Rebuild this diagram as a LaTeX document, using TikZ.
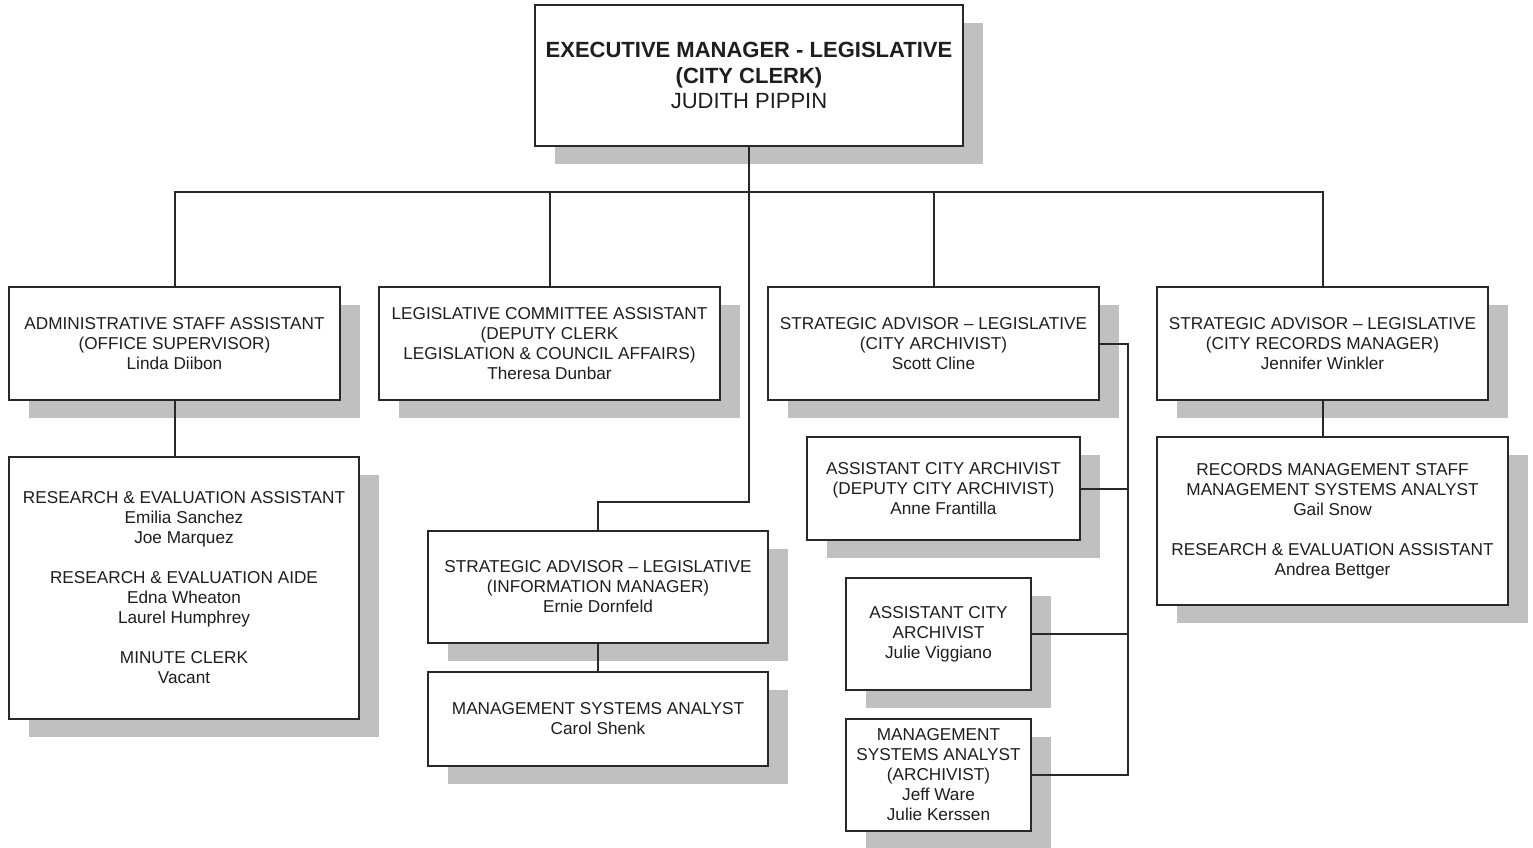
\documentclass[tikz,border=0pt]{standalone}
\usepackage{fontspec}
\setmainfont{Liberation Sans}
\usetikzlibrary{shadows}
\definecolor{shadowgray}{RGB}{192,192,192}
\definecolor{linegray}{RGB}{40,40,40}
\definecolor{txt}{RGB}{30,30,30}
\tikzset{
  orgbox/.style={draw=linegray, line width=1pt, fill=white, align=center,
    text=txt, inner sep=0pt,
    font=\fontsize{8.6}{10}\selectfont,
    drop shadow={shadow xshift=10pt, shadow yshift=-9pt, fill=shadowgray, opacity=1}},
  topbox/.style={orgbox, font=\fontsize{11}{12.75}\selectfont},
  conn/.style={draw=linegray, line width=1pt}
}
\begin{document}
\begin{tikzpicture}[x=0.5pt,y=-0.5pt]
\path[use as bounding box] (0,0) rectangle (1533,847);

\node[topbox, minimum width=214pt, minimum height=70.5pt] (top) at (749,75.5)
  {\textbf{EXECUTIVE MANAGER - LEGISLATIVE}\\\textbf{(CITY CLERK)}\\JUDITH PIPPIN};

\node[orgbox, minimum width=165.5pt, minimum height=56.5pt] (admin) at (174.5,343.5)
  {ADMINISTRATIVE STAFF ASSISTANT\\(OFFICE SUPERVISOR)\\Linda Diibon};
\node[orgbox, minimum width=170.5pt, minimum height=56.5pt] (legis) at (549.5,343.5)
  {LEGISLATIVE COMMITTEE ASSISTANT\\(DEPUTY CLERK\\LEGISLATION \& COUNCIL AFFAIRS)\\Theresa Dunbar};
\node[orgbox, minimum width=165.5pt, minimum height=56.5pt] (arch) at (933.5,343.5)
  {STRATEGIC ADVISOR – LEGISLATIVE\\(CITY ARCHIVIST)\\Scott Cline};
\node[orgbox, minimum width=165.5pt, minimum height=56.5pt] (recmgr) at (1322.5,343.5)
  {STRATEGIC ADVISOR – LEGISLATIVE\\(CITY RECORDS MANAGER)\\Jennifer Winkler};

\node[orgbox, minimum width=175pt, minimum height=131pt] (research) at (184,588)
  {RESEARCH \& EVALUATION ASSISTANT\\Emilia Sanchez\\Joe Marquez\\[10pt]
   RESEARCH \& EVALUATION AIDE\\Edna Wheaton\\Laurel Humphrey\\[10pt]
   MINUTE CLERK\\Vacant};

\node[orgbox, minimum width=170pt, minimum height=56pt] (info) at (598,587)
  {STRATEGIC ADVISOR – LEGISLATIVE\\(INFORMATION MANAGER)\\Ernie Dornfeld};
\node[orgbox, minimum width=170pt, minimum height=47pt] (msa) at (598,719)
  {MANAGEMENT SYSTEMS ANALYST\\Carol Shenk};

\node[orgbox, minimum width=136.5pt, minimum height=51.5pt] (deparch) at (943.5,488.5)
  {ASSISTANT CITY ARCHIVIST\\(DEPUTY CITY ARCHIVIST)\\Anne Frantilla};
\node[orgbox, minimum width=92.5pt, minimum height=56pt] (asstarch) at (938.5,634)
  {ASSISTANT CITY\\ARCHIVIST\\Julie Viggiano};
\node[orgbox, minimum width=92.5pt, minimum height=56pt] (msaarch) at (938.5,775)
  {MANAGEMENT\\SYSTEMS ANALYST\\(ARCHIVIST)\\Jeff Ware\\Julie Kerssen};

\node[orgbox, minimum width=175.5pt, minimum height=84pt] (recstaff) at (1332.5,521)
  {RECORDS MANAGEMENT STAFF\\MANAGEMENT SYSTEMS ANALYST\\Gail Snow\\[10pt]
   RESEARCH \& EVALUATION ASSISTANT\\Andrea Bettger};

% connectors
\coordinate (bus) at (749,192);
\coordinate (bend) at (749,502);
\coordinate (trunk) at (1128,775);

\draw[conn] (top.south) -- (bus);
\draw[conn] (admin.north) |- (bus) -| (recmgr.north);
\draw[conn] (legis.north) -- (legis.north |- bus);
\draw[conn] (arch.north) -- (arch.north |- bus);
\draw[conn] (bus) -- (bend) -| (info.north);
\draw[conn] (info.south) -- (msa.north);
\draw[conn] (admin.south) -- (admin.south |- research.north);
\draw[conn] (recmgr.south) -- (recmgr.south |- recstaff.north);
\draw[conn] (arch.east) -| (trunk) -- (msaarch.east);
\draw[conn] (deparch.east) -- (deparch.east -| trunk);
\draw[conn] (asstarch.east) -- (asstarch.east -| trunk);
\end{tikzpicture}
\end{document}
